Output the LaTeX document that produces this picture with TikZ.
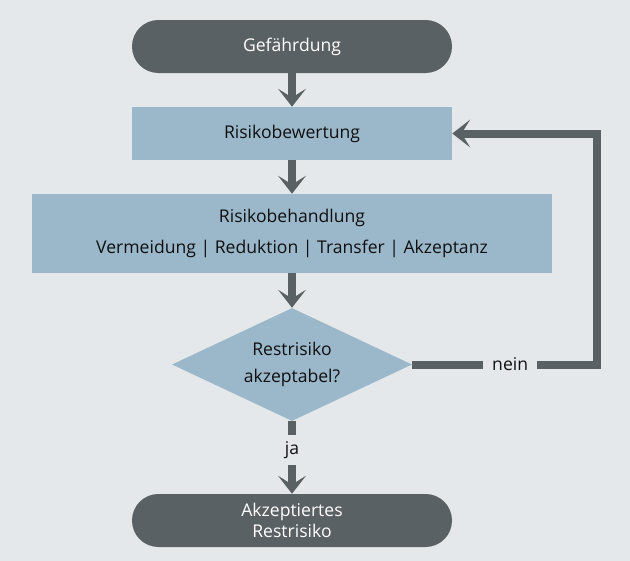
\documentclass[tikz,border=0pt]{standalone}
\usepackage{fontspec}
\setmainfont{Open Sans}
\usetikzlibrary{arrows.meta,
                shapes.geometric}
\definecolor{bggray}{HTML}{E4E8EA}
\definecolor{darkgray}{HTML}{5A6164}
\definecolor{lightblue}{HTML}{9BB7CA}
\definecolor{textblack}{HTML}{101010}

\begin{document}
\begin{tikzpicture}[font=\fontsize{12.5}{15.5}\selectfont]

\tikzstyle{pill}=[rectangle, rounded corners=0.66cm, fill=darkgray, text=white, minimum width=8cm, minimum height=1.325cm, align=center]
\tikzstyle{box1}=[rectangle, fill=lightblue, text=textblack, minimum height=1.325cm, align=center]
\tikzstyle{decision}=[diamond, fill=lightblue, text=textblack, aspect=2.12, minimum width=6cm, minimum height=2.825cm, inner sep=0pt, align=center]
\tikzstyle{arrow}=[-{Stealth[length=0.45cm, width=0.7cm, inset=0.22cm, line width=0pt]}, line width=0.2cm, draw=darkgray]
\tikzstyle{answer}=[fill=bggray, text=textblack, inner xsep=0.22cm, inner ysep=0.16cm]

\fill [bggray] (0,0) rectangle (15.75,-14.025);

\node (gef) [pill] at (7.3,-1.1625) {Gefährdung};

\node (bew) [box1, minimum width=8cm] at (7.3,-3.3375) {Risikobewertung};

\node (beh) [box1, minimum width=13cm, minimum height=1.975cm] at (7.3,-5.8375) {Risikobehandlung\\[0.25cm]
    Vermeidung | Reduktion | Transfer | Akzeptanz};

\node (rest) [decision] at (7.3,-9.1125) {Restrisiko\\[4pt] akzeptabel?};

\node (akz) [pill] at (7.3,-13.0125) {Akzeptiertes\\ Restrisiko};

\coordinate (turn) at (14.925,-9.1125);

\draw [arrow] (gef) -- (bew);
\draw [arrow] (bew) -- (beh);
\draw [arrow] (beh) -- (rest);
\draw [arrow] (rest) -- node [answer, pos=0.4] {ja} (akz);
\draw [arrow] (rest) -- node [answer, pos=0.53] {nein} (turn) |- (bew);

\end{tikzpicture}
\end{document}
